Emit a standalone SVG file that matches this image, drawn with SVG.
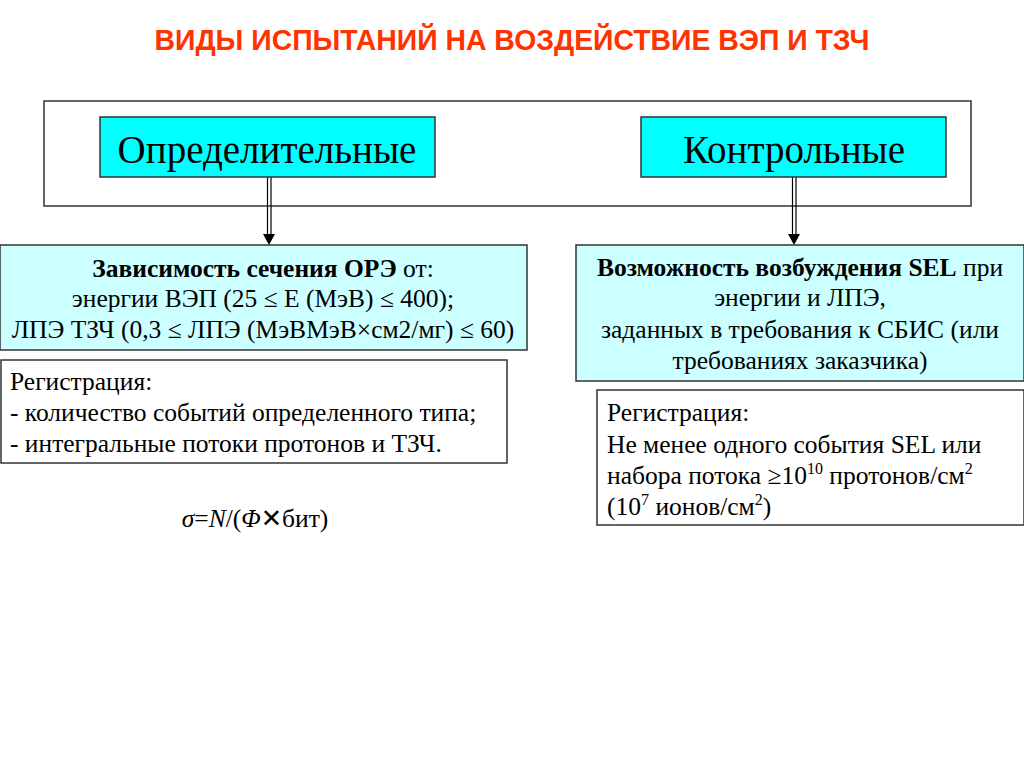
<svg xmlns="http://www.w3.org/2000/svg" width="1024" height="768" viewBox="0 0 1024 768">
<defs>
<style>
.t{font-family:"Liberation Serif","Times New Roman",serif;font-size:25.5px;fill:#000}
.big{font-family:"Liberation Serif","Times New Roman",serif;font-size:39px;fill:#000}
.sup{font-size:16px}
.box{stroke:#333;stroke-width:1.5}
.cyan{fill:#00FFFF}
.lcyan{fill:#CCFFFF}
.white{fill:#fff}
.ln{stroke:#000;stroke-width:1.2;fill:none}
</style>
</defs>
<rect width="1024" height="768" fill="#fff"/>
<text x="512" y="50" text-anchor="middle" font-family="'Liberation Sans',Arial,sans-serif" font-weight="bold" font-size="29" fill="#FF3300" textLength="715" lengthAdjust="spacingAndGlyphs">ВИДЫ ИСПЫТАНИЙ НА ВОЗДЕЙСТВИЕ ВЭП И ТЗЧ</text>
<g id="frame"><rect x="44" y="101" width="927" height="105" class="box white"/></g>
<g id="connectors">
<line x1="267.5" y1="176" x2="267.5" y2="236" class="ln"/>
<line x1="271" y1="176" x2="271" y2="236" class="ln"/>
<path d="M263,234 L275,234 L269,245 Z" fill="#000"/>
<line x1="792.5" y1="176" x2="792.5" y2="236" class="ln"/>
<line x1="796" y1="176" x2="796" y2="236" class="ln"/>
<path d="M788,234 L800,234 L794,245 Z" fill="#000"/>
</g>
<g id="node-opr"><rect x="100" y="117" width="335" height="60" class="box cyan"/><text x="267" y="163" text-anchor="middle" class="big">Определительные</text></g>
<g id="node-kontr"><rect x="641" y="117" width="305" height="60" class="box cyan"/><text x="794" y="163" text-anchor="middle" class="big">Контрольные</text></g>
<g id="node-zav"><rect x="0" y="245" width="527" height="105" class="box lcyan"/>
<text x="263" y="277" text-anchor="middle" class="t"><tspan font-weight="bold">Зависимость сечения ОРЭ</tspan> от:</text>
<text x="263" y="307" text-anchor="middle" class="t">энергии ВЭП (25 ≤ Е (МэВ) ≤ 400);</text>
<text x="263" y="338" text-anchor="middle" class="t">ЛПЭ ТЗЧ (0,3 ≤ ЛПЭ (МэВМэВ×см2/мг) ≤ 60)</text>
</g>
<g id="node-reg1"><rect x="1" y="360" width="506" height="103" class="box white"/>
<text x="10" y="390" class="t">Регистрация:</text>
<text x="10" y="421" class="t">- количество событий определенного типа;</text>
<text x="10" y="452" class="t">- интегральные потоки протонов и ТЗЧ.</text>
</g>
<g id="formula"><text x="255" y="527" text-anchor="middle" class="t"><tspan font-style="italic">σ</tspan>=<tspan font-style="italic">N</tspan>/(<tspan font-style="italic">Φ</tspan><tspan font-family="'DejaVu Sans',sans-serif" font-weight="bold">✕</tspan>бит)</text></g>
<g id="node-voz"><rect x="576" y="245" width="448" height="136" class="box lcyan"/>
<text x="800" y="276" text-anchor="middle" class="t"><tspan font-weight="bold">Возможность возбуждения SEL</tspan> при</text>
<text x="800" y="306" text-anchor="middle" class="t">энергии и ЛПЭ,</text>
<text x="800" y="338" text-anchor="middle" class="t">заданных в требования к СБИС (или</text>
<text x="800" y="369" text-anchor="middle" class="t">требованиях заказчика)</text>
</g>
<g id="node-reg2"><rect x="597" y="390" width="427" height="135" class="box white"/>
<text x="607" y="421" class="t">Регистрация:</text>
<text x="607" y="453" class="t">Не менее одного события SEL или</text>
<text x="607" y="484" class="t">набора потока ≥10<tspan class="sup" dy="-10">10</tspan><tspan dy="10"> протонов/см</tspan><tspan class="sup" dy="-10">2</tspan></text>
<text x="607" y="515" class="t">(10<tspan class="sup" dy="-10">7</tspan><tspan dy="10"> ионов/см</tspan><tspan class="sup" dy="-10">2</tspan><tspan dy="10">)</tspan></text>
</g>
</svg>
